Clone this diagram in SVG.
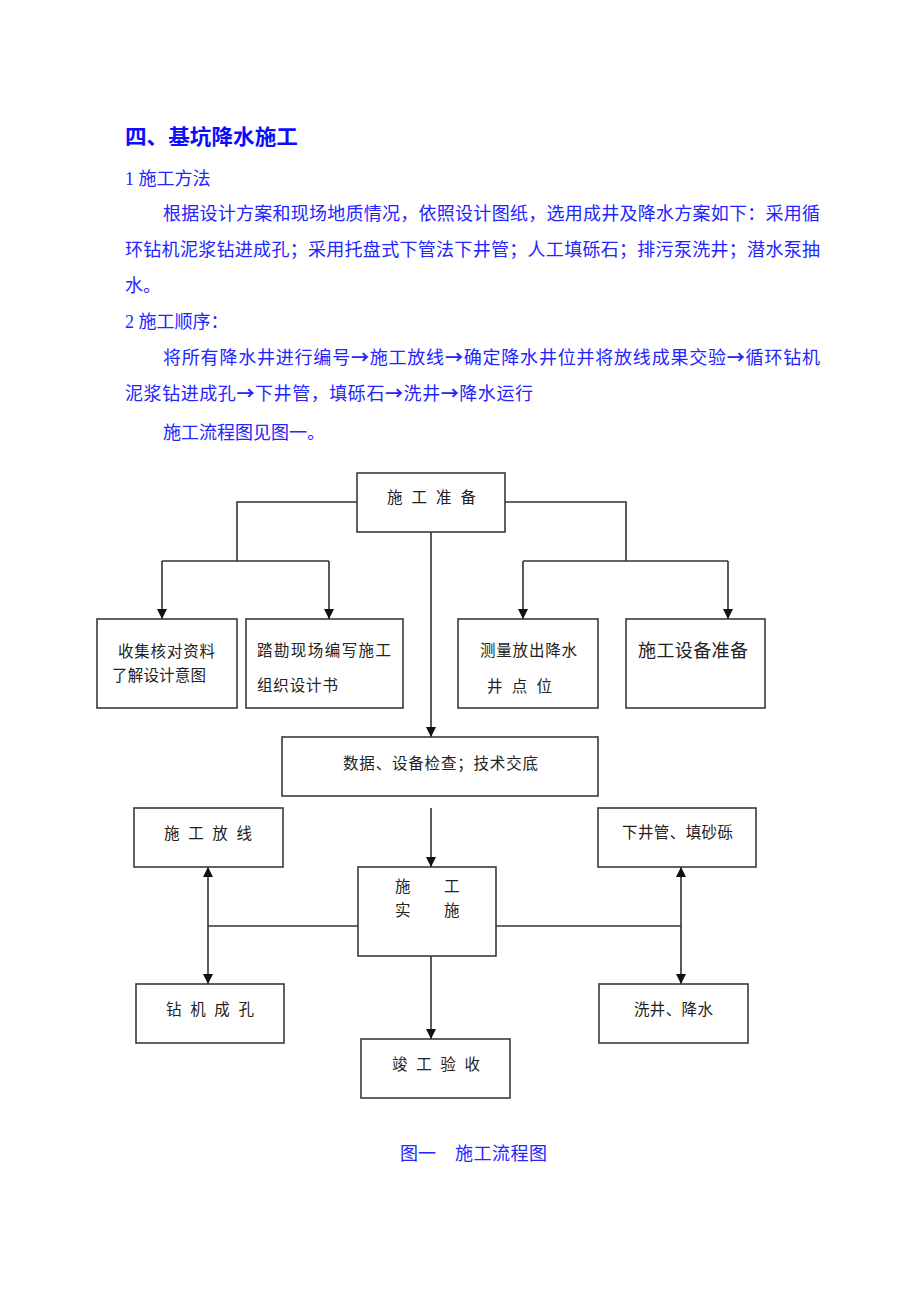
<svg xmlns="http://www.w3.org/2000/svg" width="920" height="1302" viewBox="0 0 920 1302">
<style>
.body{font-family:"Liberation Serif","Noto Sans CJK SC",serif;font-size:18px;fill:#2424ff}
.ar{font-family:"Noto Sans CJK SC",sans-serif;font-weight:bold}
.title{font-family:"Liberation Sans","Noto Sans CJK SC",sans-serif;font-size:21px;font-weight:bold;fill:#0c0cff}
.box{fill:#fff;stroke:#3a3a3a;stroke-width:1.6}
.lbl{font-family:"Liberation Serif","Noto Sans CJK SC",serif;font-size:15.5px;fill:#222}
.lbl18{font-family:"Liberation Serif","Noto Sans CJK SC",serif;font-size:18px;fill:#222}
.ln{fill:none;stroke:#333;stroke-width:1.6}
</style>
<defs>
<marker id="ah" markerUnits="userSpaceOnUse" markerWidth="12" markerHeight="12" refX="10" refY="5.5" orient="auto-start-reverse">
<path d="M0,0.5 L10,5.5 L0,10.5 z" fill="#111"/>
</marker>
</defs>
<rect width="920" height="1302" fill="#fff"/>
<g id="text">
<text class="title" x="125" y="144" textLength="173" lengthAdjust="spacingAndGlyphs">四、基坑降水施工</text>
<text class="body" x="125" y="185">1 施工方法</text>
<text class="body" x="163" y="220" textLength="657" lengthAdjust="spacing">根据设计方案和现场地质情况，依照设计图纸，选用成井及降水方案如下：采用循</text>
<text class="body" x="125" y="256" textLength="695" lengthAdjust="spacing">环钻机泥浆钻进成孔；采用托盘式下管法下井管；人工填砾石；排污泵洗井；潜水泵抽</text>
<text class="body" x="125" y="292">水。</text>
<text class="body" x="125" y="328">2 施工顺序：</text>
<text class="body" x="163" y="364" textLength="657" lengthAdjust="spacing">将所有降水井进行编号<tspan class="ar">→</tspan>施工放线<tspan class="ar">→</tspan>确定降水井位并将放线成果交验<tspan class="ar">→</tspan>循环钻机</text>
<text class="body" x="125" y="400" textLength="408" lengthAdjust="spacing">泥浆钻进成孔<tspan class="ar">→</tspan>下井管，填砾石<tspan class="ar">→</tspan>洗井<tspan class="ar">→</tspan>降水运行</text>
<text class="body" x="163" y="439">施工流程图见图一。</text>
<text class="body" x="400" y="1160">图一</text>
<text class="body" x="455" y="1160" textLength="92" lengthAdjust="spacing">施工流程图</text>
</g>
<g id="connectors">
<path class="ln" d="M357,502 H237 V561"/>
<path class="ln" d="M162,561 H329"/>
<path class="ln" d="M162,561 V619" marker-end="url(#ah)"/>
<path class="ln" d="M329,561 V619" marker-end="url(#ah)"/>
<path class="ln" d="M505,502 H626 V561"/>
<path class="ln" d="M523,561 H728"/>
<path class="ln" d="M523,561 V619" marker-end="url(#ah)"/>
<path class="ln" d="M728,561 V619" marker-end="url(#ah)"/>
<path class="ln" d="M431,532 V737" marker-end="url(#ah)"/>
<path class="ln" d="M431,808 V867" marker-end="url(#ah)"/>
<path class="ln" d="M431,956 V1039" marker-end="url(#ah)"/>
<path class="ln" d="M208,867 V984" marker-start="url(#ah)" marker-end="url(#ah)"/>
<path class="ln" d="M208,926 H358"/>
<path class="ln" d="M681,867 V984" marker-start="url(#ah)" marker-end="url(#ah)"/>
<path class="ln" d="M496,926 H681"/>
</g>
<g id="n-prep"><rect class="box" x="357" y="473" width="148" height="59"/><text class="lbl" x="387" y="503" textLength="89" lengthAdjust="spacing">施 工 准 备</text></g>
<g id="n-collect"><rect class="box" x="97" y="619" width="140" height="89"/><text class="lbl" x="118" y="657" textLength="97" lengthAdjust="spacing">收集核对资料</text><text class="lbl" x="112" y="681" textLength="94" lengthAdjust="spacing">了解设计意图</text></g>
<g id="n-survey"><rect class="box" x="246" y="619" width="157" height="89"/><text class="lbl" x="257" y="656" textLength="134" lengthAdjust="spacing">踏勘现场编写施工</text><text class="lbl" x="257" y="691" textLength="81" lengthAdjust="spacing">组织设计书</text></g>
<g id="n-measure"><rect class="box" x="458" y="619" width="140" height="89"/><text class="lbl" x="480" y="656" textLength="97" lengthAdjust="spacing">测量放出降水</text><text class="lbl" x="487" y="692" textLength="65" lengthAdjust="spacing">井 点 位</text></g>
<g id="n-equip"><rect class="box" x="626" y="619" width="139" height="89"/><text class="lbl18" x="638" y="657" textLength="110" lengthAdjust="spacing">施工设备准备</text></g>
<g id="n-check"><rect class="box" x="282" y="737" width="316" height="59"/><text class="lbl" x="343" y="769" textLength="195" lengthAdjust="spacing">数据、设备检查；技术交底</text></g>
<g id="n-layout"><rect class="box" x="134" y="808" width="149" height="59"/><text class="lbl" x="164" y="839" textLength="88" lengthAdjust="spacing">施 工 放 线</text></g>
<g id="n-impl"><rect class="box" x="358" y="867" width="138" height="89"/><text class="lbl" x="395" y="892">施</text><text class="lbl" x="444" y="892">工</text><text class="lbl" x="395" y="916">实</text><text class="lbl" x="444" y="916">施</text></g>
<g id="n-pipe"><rect class="box" x="598" y="808" width="158" height="59"/><text class="lbl" x="622" y="838" textLength="111" lengthAdjust="spacing">下井管、填砂砾</text></g>
<g id="n-drill"><rect class="box" x="136" y="984" width="148" height="59"/><text class="lbl" x="166" y="1015" textLength="88" lengthAdjust="spacing">钻 机 成 孔</text></g>
<g id="n-wash"><rect class="box" x="599" y="984" width="149" height="59"/><text class="lbl" x="634" y="1015" textLength="79" lengthAdjust="spacing">洗井、降水</text></g>
<g id="n-accept"><rect class="box" x="361" y="1039" width="149" height="59"/><text class="lbl" x="392" y="1070" textLength="88" lengthAdjust="spacing">竣 工 验 收</text></g>
</svg>
